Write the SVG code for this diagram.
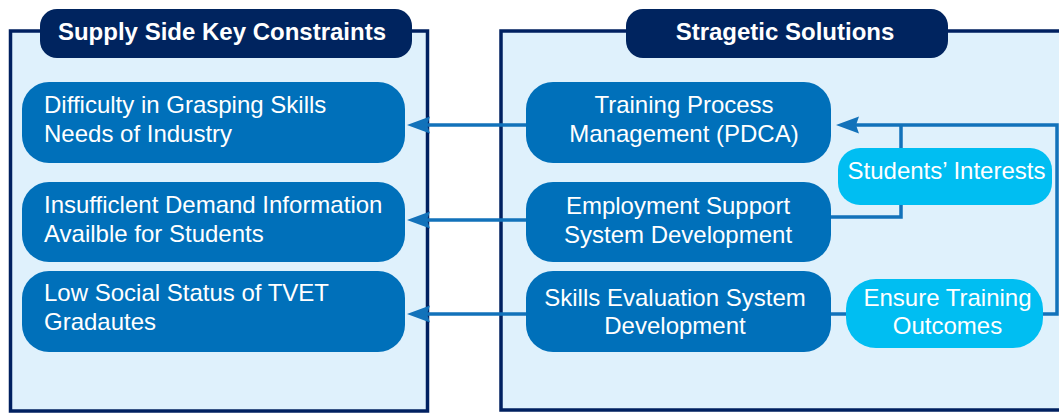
<svg xmlns="http://www.w3.org/2000/svg" width="1059" height="413" viewBox="0 0 1059 413">
<defs>
<style>
.panel{fill:#DFF1FC;stroke:#002060;stroke-width:3.5}
.hdr{fill:#00245F}
.hdrt{font-family:"Liberation Sans",Arial,sans-serif;font-size:24px;font-weight:bold;fill:#FFFFFF;text-anchor:middle}
.node{fill:#0070BA}
.lite{fill:#00BEF2}
.t{font-family:"Liberation Sans",Arial,sans-serif;font-size:24px;fill:#FFFFFF}
.c{text-anchor:middle}
.ln{fill:none;stroke:#1272BA;stroke-width:3.5}
</style>
<marker id="arr" markerUnits="userSpaceOnUse" markerWidth="26" markerHeight="20" viewBox="0 -10 26 20" refX="3" refY="0" orient="auto">
<path d="M0,-8.5 L23,0 L0,8.5 L3,0 Z" fill="#1272BA"/>
</marker>
</defs>
<rect width="1059" height="413" fill="#FFFFFF"/>
<g id="panel-left">
<rect class="panel" x="10.5" y="31" width="417" height="380"/>
<rect class="hdr" x="40" y="9" width="372" height="49" rx="17"/>
<text class="hdrt" x="222" y="40">Supply Side Key Constraints</text>
</g>
<g id="panel-right">
<rect class="panel" x="501" y="31" width="600" height="379"/>
<rect class="hdr" x="626" y="9" width="322" height="49" rx="17"/>
<text class="hdrt" x="785" y="40">Stragetic Solutions</text>
</g>
<g id="connectors">
<line class="ln" x1="526" y1="125" x2="427" y2="125" marker-end="url(#arr)"/>
<line class="ln" x1="526" y1="220" x2="427" y2="220" marker-end="url(#arr)"/>
<line class="ln" x1="526" y1="314" x2="427" y2="314" marker-end="url(#arr)"/>
<path class="ln" d="M831,314 H1057 V125 H856" marker-end="url(#arr)"/>
<path class="ln" d="M831,217 H901 V125"/>
</g>
<g id="c1">
<rect class="node" x="22" y="82" width="383" height="81" rx="27"/>
<text class="t" x="44" y="113">Difficulty in Grasping Skills</text>
<text class="t" x="44" y="142">Needs of Industry</text>
</g>
<g id="c2">
<rect class="node" x="22" y="182" width="383" height="80" rx="27"/>
<text class="t" x="44" y="213">Insufficlent Demand Information</text>
<text class="t" x="44" y="242">Availble for Students</text>
</g>
<g id="c3">
<rect class="node" x="22" y="271" width="383" height="81" rx="27"/>
<text class="t" x="44" y="301">Low Social Status of TVET</text>
<text class="t" x="44" y="330">Gradautes</text>
</g>
<g id="s1">
<rect class="node" x="526" y="82" width="305" height="81" rx="27"/>
<text class="t c" x="684" y="113">Training Process</text>
<text class="t c" x="684" y="142">Management (PDCA)</text>
</g>
<g id="s2">
<rect class="node" x="526" y="182" width="305" height="80" rx="27"/>
<text class="t c" x="678" y="214">Employment Support</text>
<text class="t c" x="678" y="243">System Development</text>
</g>
<g id="s3">
<rect class="node" x="526" y="271" width="305" height="81" rx="27"/>
<text class="t c" x="675" y="306">Skills Evaluation System</text>
<text class="t c" x="675" y="334">Development</text>
</g>
<g id="students-interests">
<rect class="lite" x="838" y="148" width="214" height="57" rx="22"/>
<text class="t c" x="946.5" y="179">Students’ Interests</text>
</g>
<g id="ensure-outcomes">
<rect class="lite" x="846" y="279" width="197" height="69" rx="30"/>
<text class="t c" x="947.5" y="306">Ensure Training</text>
<text class="t c" x="947.5" y="334">Outcomes</text>
</g>
</svg>
